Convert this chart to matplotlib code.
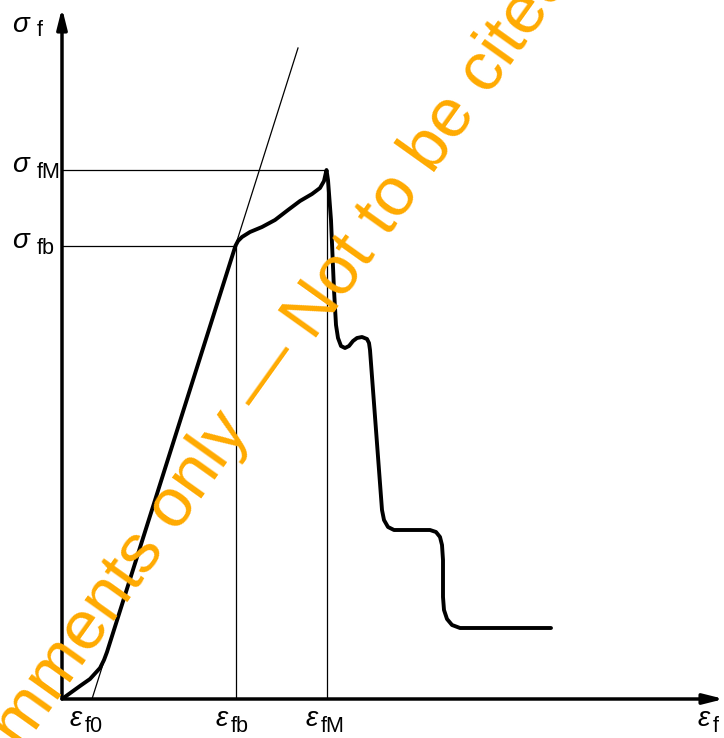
import matplotlib
matplotlib.use("Agg")
import matplotlib.pyplot as plt

# schematic stress-strain curve, strain/stress in arbitrary units
strain = [0.0, 0.18, 0.28, 0.38, 0.42, 0.45, 1.735, 1.76, 1.80, 1.88, 2.00,
          2.13, 2.26, 2.38, 2.50, 2.58, 2.62, 2.645, 2.66, 2.69, 2.72, 2.74,
          2.76, 2.79, 2.83, 2.87, 2.91, 2.95, 3.00, 3.05, 3.07, 3.08, 3.20,
          3.22, 3.26, 3.32, 3.68, 3.74, 3.78, 3.80, 3.81, 3.81, 3.82, 3.85,
          3.90, 3.98, 4.89]
stress = [0.0, 0.13, 0.20, 0.31, 0.39, 0.47, 4.533, 4.58, 4.62, 4.67, 4.72,
          4.79, 4.89, 4.98, 5.05, 5.11, 5.18, 5.29, 5.19, 4.79, 4.09, 3.74,
          3.61, 3.53, 3.51, 3.53, 3.58, 3.61, 3.62, 3.60, 3.56, 3.49, 1.89,
          1.79, 1.72, 1.69, 1.69, 1.67, 1.62, 1.54, 1.39, 1.02, 0.89, 0.80,
          0.74, 0.71, 0.71]

tangent_x = [0.30, 2.36]
tangent_y = [0.0, 6.51]

eps_f0, eps_fb, eps_fM = 0.30, 1.735, 2.645
sig_fb, sig_fM = 4.533, 5.29

W, H = 724, 738
fig = plt.figure(figsize=(W / 100, H / 100), dpi=100)
ax = fig.add_axes([62 / W, 39 / H, 662 / W, 691 / H])
ax.set_xlim(0, 6.62)
ax.set_ylim(0, 6.91)
ax.axis("off")

# axes with arrow heads
arrow = dict(arrowstyle="-|>,head_width=0.3,head_length=1.2",
             lw=2.5, color="black", shrinkA=0, shrinkB=0)
ax.annotate("", xy=(0, 6.91), xytext=(0, 0), arrowprops=arrow)
ax.annotate("", xy=(6.62, 0), xytext=(0, 0), arrowprops=arrow)

# guide lines
ax.plot([0, eps_fM], [sig_fM, sig_fM], color="black", lw=0.9)
ax.plot([0, eps_fb], [sig_fb, sig_fb], color="black", lw=0.9)
ax.plot([eps_fM, eps_fM], [0, sig_fM], color="black", lw=0.9)
ax.plot([eps_fb, eps_fb], [0, sig_fb], color="black", lw=0.9)
ax.plot(tangent_x, tangent_y, color="black", lw=0.9)

ax.plot(strain, stress, color="black", lw=2.8, solid_joinstyle="round",
        solid_capstyle="round")

fam = ["Liberation Sans", "DejaVu Sans"]

def label(x, y, main, sub, dx, dy):
    ax.text(x, y, main, fontsize=20, family=fam, style="italic",
            ha="left", va="baseline", clip_on=False)
    ax.text(x + dx, y - dy, sub, fontsize=15.5, family=fam, ha="left",
            va="baseline", clip_on=False)

label(-0.50, 6.67, "σ", "f", 0.25, 0.04)
label(-0.50, 5.27, "σ", "fM", 0.25, 0.06)
label(-0.50, 4.51, "σ", "fb", 0.25, 0.06)

label(0.08, -0.27, "ε", "f0", 0.15, 0.06)
label(eps_fb - 0.20, -0.27, "ε", "fb", 0.15, 0.06)
label(eps_fM - 0.21, -0.27, "ε", "fM", 0.15, 0.06)
label(6.36, -0.27, "ε", "f", 0.15, 0.06)

# draft watermark
fig.text(0.312, 0.413, "For comments only — Not to be cited", color="#FFAA00",
         fontsize=50, family=fam, rotation=54.5, rotation_mode="anchor",
         ha="center", va="center")

fig.savefig("out.png", dpi=100)
